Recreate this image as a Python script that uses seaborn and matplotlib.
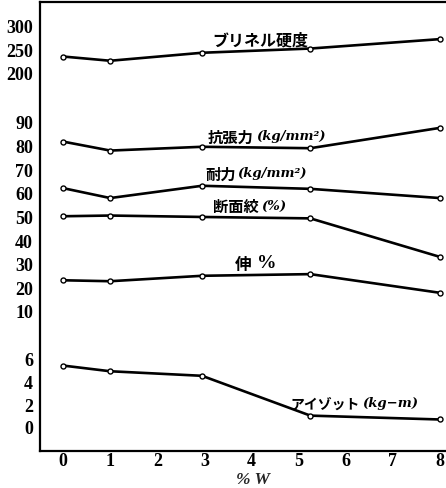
import numpy as np
import pandas as pd
import matplotlib
matplotlib.use("Agg")
import matplotlib.pyplot as plt
import seaborn as sns

# ---- data ----
w_pct = [0, 1, 2.95, 5.25, 8]
brinell = [235, 226, 243, 252, 272]
tensile = [81.7, 77.9, 79.5, 78.9, 87.5]
yield_pt = [62.0, 57.8, 63.0, 61.7, 57.8]
reduction = [50.1, 50.4, 49.8, 49.2, 32.9]
elongation = [23.0, 22.6, 24.9, 25.6, 17.7]
izod = [5.4, 4.9, 4.5, 1.0, 0.66]

x_ticks = [0, 1, 2, 3, 4, 5, 6, 7, 8]
y_ticks = [0, 2, 4, 6, 8, 10, 20, 30, 40, 50, 60, 70, 80, 90, 200, 250, 300]
y_labels = ["0", "2", "4", "6", "", "10", "20", "30", "40", "50", "60", "70",
            "80", "90", "200", "250", "300"]

# piecewise (broken) vertical scale knots: value -> relative position
knot_v = np.array([-100, 0, 8, 10, 90, 200, 300, 1000], dtype=float)
knot_p = np.array([1565.5, 428, 337, 312, 123, 74, 27, -302], dtype=float)


def fwd(v):
    return -np.interp(np.asarray(v, dtype=float), knot_v, knot_p)


def inv(p):
    return np.interp(np.asarray(p, dtype=float), -knot_p, knot_v)


sns.set_style("white")
plt.rcParams['font.family'] = ['Liberation Serif', 'DejaVu Serif']

W, H = 446, 489
fig = plt.figure(figsize=(W / 100, H / 100), dpi=100)
ax = fig.add_axes([40 / W, 37 / H, 1 - 40 / W, (452 - 3) / H])
ax.set_yscale('function', functions=(fwd, inv))

series = [brinell, tensile, yield_pt, reduction, elongation, izod]
for s in series:
    df = pd.DataFrame({"W": w_pct, "v": s})
    sns.lineplot(data=df, x="W", y="v", ax=ax, color="black", lw=1.9,
                 marker="o", markersize=3.6, markerfacecolor="white",
                 markeredgecolor="black", markeredgewidth=1.0)

ax.set_xlim(-0.49, 8.13)
ax.set_ylim(-2.11, 351)
ax.set_xticks(x_ticks)
ax.set_xticklabels([str(t) for t in x_ticks])
ax.set_yticks(y_ticks)
ax.set_yticklabels(y_labels)
ax.yaxis.set_minor_locator(matplotlib.ticker.NullLocator())
ax.tick_params(axis='both', direction='in', length=5, width=1.2,
               labelsize=13, colors='black')
ax.tick_params(axis='y', pad=5)
ax.tick_params(axis='x', pad=1)
for lab in ax.get_xticklabels() + ax.get_yticklabels():
    lab.set_fontweight('bold')
ax.set_xlabel("")
ax.set_ylabel("")
for side in ['left', 'bottom', 'top']:
    ax.spines[side].set_visible(True)
    ax.spines[side].set_color('black')
    ax.spines[side].set_linewidth(1.6)
ax.spines['right'].set_visible(False)

jp = ['Noto Sans CJK JP', 'DejaVu Sans']
it = ['DejaVu Serif']
renderer = fig.canvas.get_renderer()


def ptxt(px, py, s, fam, style='normal', size=10.5, ha='left'):
    return fig.text(px / W, 1 - py / H, s, family=fam, fontsize=size,
                    fontweight='bold', style=style, ha=ha, va='center',
                    color='black')


def pair(px, py, s1, s2, size1=11, size2=9.5, gap=2, fam2=it, style2='italic'):
    t = ptxt(px, py, s1, jp, size=size1)
    bb = t.get_window_extent(renderer=renderer)
    ptxt(bb.x1 + gap, py - 1, s2, fam2, style=style2, size=size2)


ptxt(212, 40, "ブリネル硬度", jp, size=11.5)
pair(208, 138, "抗張力", "(kg/mm²)")
pair(205, 175, "耐力", "(kg/mm²)")
pair(213, 207, "断面絞", "(%)")
pair(235, 265, "伸", "%", size1=12, size2=14, gap=5, fam2=['Liberation Serif'],
     style2='normal')
pair(290, 405, "アイゾット", "(kg−m)", size1=10, gap=3)

fig.text(253 / W, 1 - 480 / H, "% W", family=['Liberation Serif'], fontsize=12.5,
         fontweight='bold', style='italic', ha='center', va='center')

fig.savefig("out.png", dpi=100)
